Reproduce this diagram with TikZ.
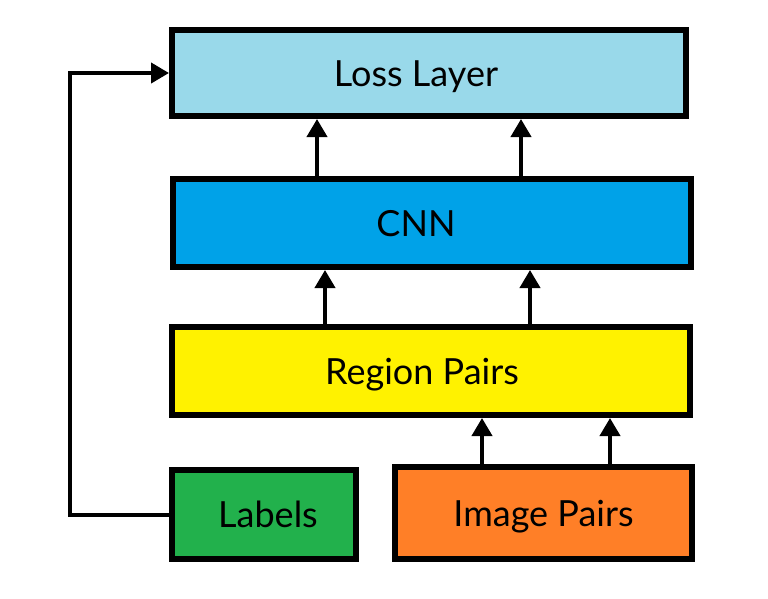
\documentclass[tikz,border=0pt]{standalone}
\usepackage{fontspec}
\setmainfont{Lato}
\usetikzlibrary{arrows.meta}
\definecolor{cLoss}{HTML}{99D9EA}
\definecolor{cCnn}{HTML}{00A2E8}
\definecolor{cReg}{HTML}{FFF200}
\definecolor{cLab}{HTML}{22B14C}
\definecolor{cImg}{HTML}{FF7F27}
\begin{document}
\begin{tikzpicture}[x=1pt,y=-1pt,
  blk/.style={draw=black,line width=6pt,inner sep=0pt,text height=26pt,text depth=0pt,
    font=\fontsize{36}{42}\selectfont},
  arr/.style={line width=4pt,-{Triangle[width=20pt,length=18pt]}},
  fb/.style={line width=4pt}]
\useasboundingbox[fill=white] (0,0) rectangle (768,598);
\node[blk,fill=cLoss,minimum width=514pt,minimum height=86pt] (loss) at (429,73) {Loss Layer\kern26pt};
\node[blk,fill=cCnn,minimum width=518pt,minimum height=88pt] (cnn) at (432,223) {CNN\kern32pt};
\node[blk,fill=cReg,minimum width=518pt,minimum height=88pt] (reg) at (431,371) {Region Pairs\kern18pt};
\node[blk,fill=cLab,minimum width=184pt,minimum height=89pt] (lab) at (264,514.5) {\kern8pt Labels};
\node[blk,fill=cImg,minimum width=297pt,minimum height=92pt] (img) at (543.5,513) {Image Pairs};
\coordinate (x1) at (317,0);
\coordinate (x2) at (521,0);
\coordinate (x3) at (325,0);
\coordinate (x4) at (530,0);
\coordinate (x5) at (482,0);
\coordinate (x6) at (610,0);
\coordinate (xl) at (70,0);
\draw[arr] (cnn.north -| x1) -- (loss.south -| x1);
\draw[arr] (cnn.north -| x2) -- (loss.south -| x2);
\draw[arr] (reg.north -| x3) -- (cnn.south -| x3);
\draw[arr] (reg.north -| x4) -- (cnn.south -| x4);
\draw[arr] (img.north -| x5) -- (reg.south -| x5);
\draw[arr] (img.north -| x6) -- (reg.south -| x6);
\draw[fb,-{Triangle[width=20pt,length=18pt]}] (lab.west) -- (lab.west -| xl) -- (loss.west -| xl) -- (loss.west);
\end{tikzpicture}
\end{document}
